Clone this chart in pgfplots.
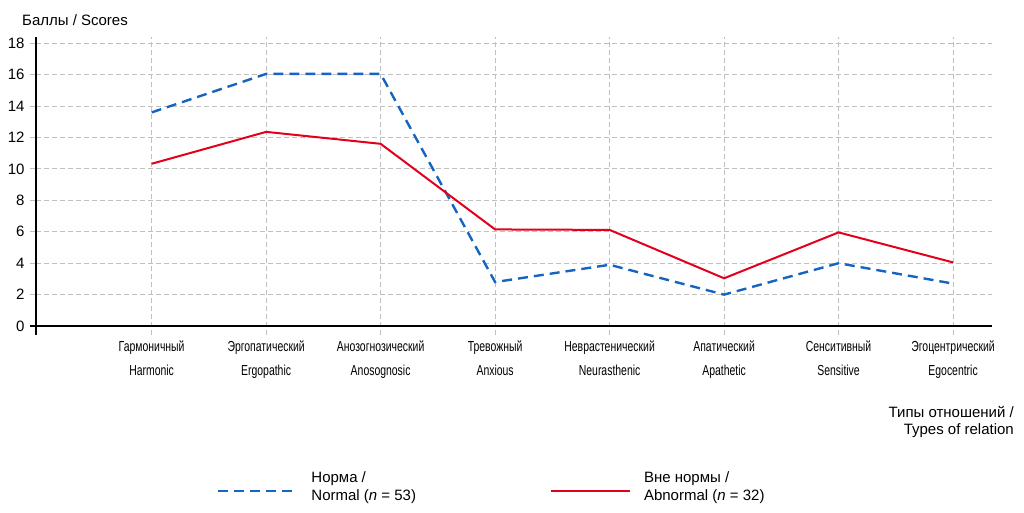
\documentclass[border=0pt]{standalone}
\usepackage{fontspec}
\setmainfont{Liberation Sans}
\newfontfamily\narrow[FakeStretch=0.72]{Liberation Sans}
\usepackage{pgfplots}
\pgfplotsset{compat=1.18}
\definecolor{normblue}{RGB}{21,101,192}
\definecolor{abred}{RGB}{226,0,26}
\definecolor{gridgray}{RGB}{192,192,192}
\begin{document}
\begin{tikzpicture}[x=1pt,y=1pt]
\useasboundingbox (0,0) rectangle (1024,513);
\node[anchor=base west, font=\fontsize{15}{18}\selectfont, inner sep=0] at (22,487) {Баллы / Scores};
\node[anchor=north east, align=right, font=\fontsize{15}{17}\selectfont, inner sep=0] at (1014,107) {Типы отношений /\\Types of relation};
\begin{axis}[
  at={(36pt,178pt)}, anchor=south west,
  scale only axis, width=956pt, height=298pt,
  xmin=-1.01, xmax=7.34, ymin=-0.57, ymax=18.4,
  clip=false,
  axis lines=left,
  axis line style={draw=none},
  xtick={0,...,7},
  xticklabels={{Гармоничный\\Harmonic},{Эргопатический\\Ergopathic},{Анозогнозический\\Anosognosic},{Тревожный\\Anxious},{Неврастенический\\Neurasthenic},{Апатический\\Apathetic},{Сенситивный\\Sensitive},{Эгоцентрический\\Egocentric}},
  xticklabel style={align=center, font=\narrow\fontsize{14.5}{24}\selectfont, yshift=4pt},
  ytick={0,2,...,18},
  yticklabel style={font=\fontsize{15}{18}\selectfont, xshift=-2pt},
  /pgf/number format/assume math mode=true,
  tick align=outside,
  major tick length=6pt,
  xtick style={draw=none},
  ytick style={draw=gridgray, line width=1pt, dash pattern=on 5pt off 3pt},
  grid=major,
  grid style={draw=gridgray, line width=1pt, dash pattern=on 5pt off 3pt},
  legend columns=2,
  legend style={at={(0.186,-0.445)}, anchor=north west, draw=none, fill=none,
    cells={align=left}, font=\fontsize{15}{18}\selectfont,
    /tikz/every even column/.append style={column sep=132pt}},
  legend image code/.code={\draw[#1] (0pt,-4pt) -- (79pt,-4pt); \path (90pt,-4pt);},
]
\draw[black, line width=1.4pt] (axis cs:-1.01,-0.57) -- (axis cs:-1.01,18.4);
\draw[black, line width=1.4pt] ([xshift=-6pt]axis cs:-1.01,0) -- (axis cs:7.34,0);
\addplot[normblue, line width=2.4pt, dash pattern=on 10pt off 6pt] coordinates {(0,13.6)(1,16.05)(2,16.05)(3,2.8)(4,3.9)(5,2.0)(6,4.0)(7,2.7)};
\addlegendentry{Норма /\\Normal (\textit{n} = 53)}
\addplot[abred, line width=2pt] coordinates {(0,10.33)(1,12.36)(2,11.6)(3,6.15)(4,6.12)(5,3.04)(6,5.96)(7,4.05)};
\addlegendentry{Вне нормы /\\Abnormal (\textit{n} = 32)}
\end{axis}
\end{tikzpicture}
\end{document}
